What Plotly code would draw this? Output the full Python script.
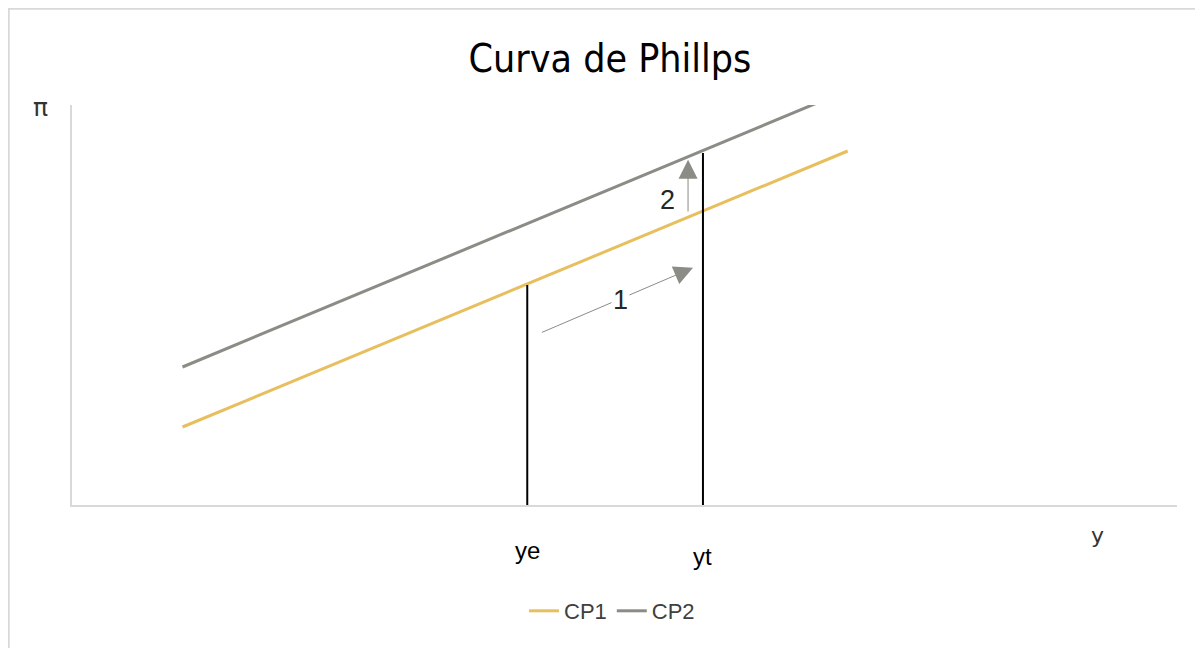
import plotly.graph_objects as go

# Data
cp1_x = [10.0, 70.2]
cp1_y = [19.5, 88.5]
cp2_x = [10.0, 70.2]
cp2_y = [34.5, 103.7]

ye_x = 41.2
ye_top = 55.0
yt_x = 57.1
yt_top = 88.0

tick_labels = ["ye", "yt"]
tick_pos = [ye_x, yt_x]

arrow1_tail = (42.4, 43.0)
arrow1_tip = (56.2, 59.3)
arrow1_label = (49.6, 51.3)
arrow2_tail = (55.75, 73.0)
arrow2_tip = (55.75, 86.3)
arrow2_label = (53.9, 76.3)

GOLD = "#E8BF5E"
GRAY = "#8A8C85"
AXIS = "#D9D9D9"

# figure-pixel geometry of the plot area
L, T, W, H = 64, 97, 1105, 400
FW, FH = 1203, 648


def px_x(p):
    return (p - L) / W


def px_y(p):
    return (T + H - p) / H


fig = go.Figure()
fig.add_trace(go.Scatter(x=cp1_x, y=cp1_y, mode="lines", name="CP1",
                         line=dict(color=GOLD, width=3)))
fig.add_trace(go.Scatter(x=cp2_x, y=cp2_y, mode="lines", name="CP2",
                         line=dict(color=GRAY, width=3)))
fig.add_trace(go.Scatter(x=[ye_x, ye_x], y=[0, ye_top], mode="lines",
                         line=dict(color="black", width=2), showlegend=False, hoverinfo="skip"))
fig.add_trace(go.Scatter(x=[yt_x, yt_x], y=[0, yt_top], mode="lines",
                         line=dict(color="black", width=2), showlegend=False, hoverinfo="skip"))

annotations = []
for tail, tip in [(arrow1_tail, arrow1_tip), (arrow2_tail, arrow2_tip)]:
    annotations.append(dict(x=tip[0], y=tip[1], ax=tail[0], ay=tail[1],
                            xref="x", yref="y", axref="x", ayref="y",
                            text="", showarrow=True, arrowhead=2, arrowsize=3.8,
                            arrowwidth=1, arrowcolor=GRAY))
annotations.append(dict(x=arrow1_label[0], y=arrow1_label[1], xref="x", yref="y",
                        text="1", showarrow=False, bgcolor="white",
                        font=dict(size=27, color="#262626", family="Liberation Sans")))
annotations.append(dict(x=arrow2_label[0], y=arrow2_label[1], xref="x", yref="y",
                        text="2", showarrow=False,
                        font=dict(size=27, color="#262626", family="Liberation Sans")))
for lbl, pos, py in zip(tick_labels, tick_pos, [542, 548]):
    annotations.append(dict(x=pos, y=px_y(py), xref="x", yref="paper", text=lbl,
                            showarrow=False, yanchor="middle", xanchor="center",
                            font=dict(size=24, color="black", family="Liberation Sans")))
annotations.append(dict(x=px_x(1089), y=px_y(527), xref="paper", yref="paper",
                        text="y", showarrow=False, yanchor="middle", xanchor="center",
                        font=dict(size=22, color="#333333", family="DejaVu Sans")))
annotations.append(dict(x=px_x(32), y=px_y(99), xref="paper", yref="paper",
                        text="π", showarrow=False, yanchor="middle", xanchor="center",
                        font=dict(size=25, color="#333333", family="DejaVu Sans")))

fig.update_layout(
    width=FW, height=FH,
    margin=dict(l=L, r=FW - L - W, t=T, b=FH - T - H),
    paper_bgcolor="white", plot_bgcolor="white",
    title=dict(text="Curva de Phillps", x=602 / FW, xanchor="center", xref="container",
               y=1 - 50 / FH, yanchor="middle", yref="container",
               font=dict(size=39, color="black",
                         family="Liberation Sans Narrow, DejaVu Sans Condensed, Arial Narrow")),
    xaxis=dict(range=[0, 100], showgrid=False, zeroline=False, showticklabels=False,
               ticks="", showline=True, linecolor=AXIS, linewidth=2, fixedrange=True),
    yaxis=dict(range=[0, 100], showgrid=False, zeroline=False, showticklabels=False,
               ticks="", showline=True, linecolor=AXIS, linewidth=2, fixedrange=True),
    legend=dict(orientation="h", x=604 / FW, xanchor="center", xref="container",
                y=1 - 603 / FH, yanchor="middle", yref="container",
                font=dict(size=22, color="#404040", family="Liberation Sans Narrow, Liberation Sans")),
    annotations=annotations,
    shapes=[dict(type="rect", xref="paper", yref="paper",
                 x0=px_x(0.5), x1=px_x(FW + 20),
                 y0=px_y(FH + 20), y1=px_y(0.5),
                 line=dict(color=AXIS, width=2.5), fillcolor="rgba(0,0,0,0)", layer="below")],
    showlegend=True,
)

fig.write_html("out.html")
